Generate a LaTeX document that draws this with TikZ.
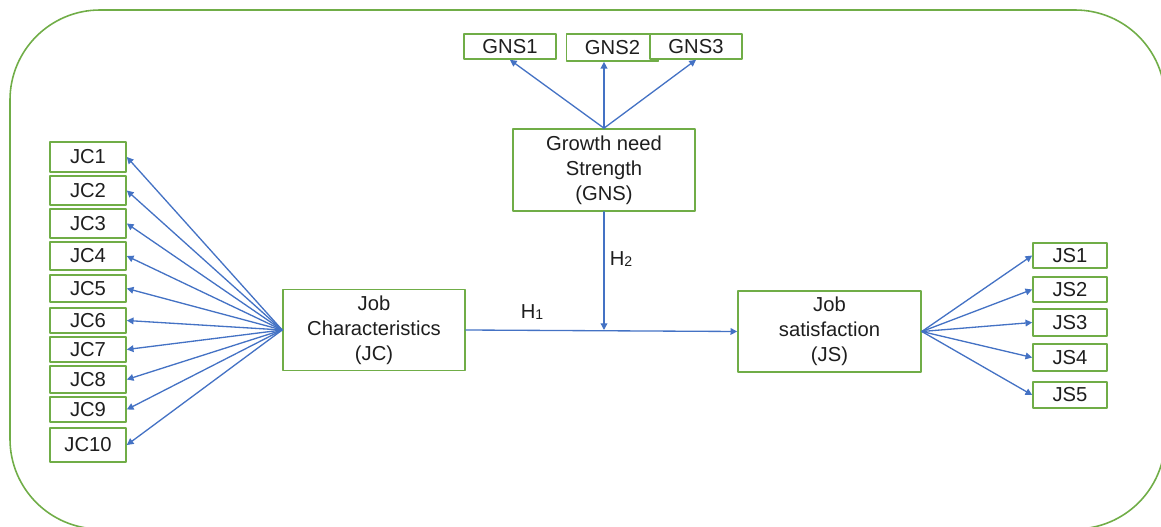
\documentclass[tikz,border=0pt]{standalone}
\usepackage{fontspec}
\setmainfont{Liberation Sans}
\usetikzlibrary{arrows.meta}
\definecolor{vien}{RGB}{112,173,71}
\definecolor{mui}{RGB}{68,114,196}
\definecolor{chu}{RGB}{30,30,30}
\begin{document}
\begin{tikzpicture}[x=0.02cm,y=-0.02cm,>={Triangle[length=3.8pt,width=3.8pt]}, font=\fontsize{11.5}{14.3}\selectfont, text=chu, line join=round, line cap=round,
	o/.style={draw=vien,fill=white,line width=0.95pt,inner sep=0pt,align=center},
	mt/.style={draw=mui,line width=0.75pt,->}]
	\useasboundingbox (0,0) rectangle (1161,527);
	\draw[vien,line width=0.9pt,rounded corners=1.8cm] (10,10) rectangle (1165,529);
	% Khoi chinh
	\node[o,minimum width=3.64cm,minimum height=1.62cm] (JC) at (374,330) {Job\\Characteristics\\(JC)};
	\node[o,minimum width=3.66cm,minimum height=1.62cm] (JS) at (829.5,331.5) {Job\\satisfaction\\(JS)};
	\node[o,minimum width=3.64cm,minimum height=1.64cm] (GNS) at (604,170) {Growth need\\Strength\\(GNS)};
	% Bien quan sat
	\foreach \i/\y/\h in {1/157/30,2/190.5/29,3/223.5/29,4/256/28,5/288.5/27,6/320.5/25,7/349.5/25,8/379.5/27,9/409.5/25,10/445/34}
	\node[o,minimum width=1.52cm,minimum height=\h*0.02cm] (jc\i) at (88,\y) {JC\i};
	\foreach \i/\y/\h in {1/255.5/25,2/289.5/25,3/322.5/27,4/357.5/27,5/395/26}
	\node[o,minimum width=1.48cm,minimum height=\h*0.02cm] (js\i) at (1070,\y) {JS\i};
	\foreach \i/\x/\h in {1/510/25,2/612.5/27,3/696/25}
	\node[o,minimum width=1.84cm,minimum height=\h*0.02cm] (gns\i) at (\x,34+\h/2) {GNS\i};
	% Mui ten
	\foreach \i in {1,...,10} \draw[mt] (JC.west)--(jc\i.east);
	\foreach \i in {1,...,5} \draw[mt] (JS.east)--(js\i.west);
	\draw[mt] (GNS.north)--(gns1.south);
	\draw[mt] (GNS.north)--(gns2.south -| GNS.north);
	\draw[mt] (GNS.north)--(gns3.south);
	\coordinate (h) at (GNS.south |- JC.east);
	\draw[mt] (JC.east)--(JS.west);
	\draw[mt] (GNS.south)--(h);
	\node (h1) at (532,312) {H{\fontsize{8}{9}\selectfont\raisebox{-0.5pt}{1}}};
	\node (h2) at (621,259) {H{\fontsize{8}{9}\selectfont\raisebox{-0.5pt}{2}}};
\end{tikzpicture}
\end{document}
